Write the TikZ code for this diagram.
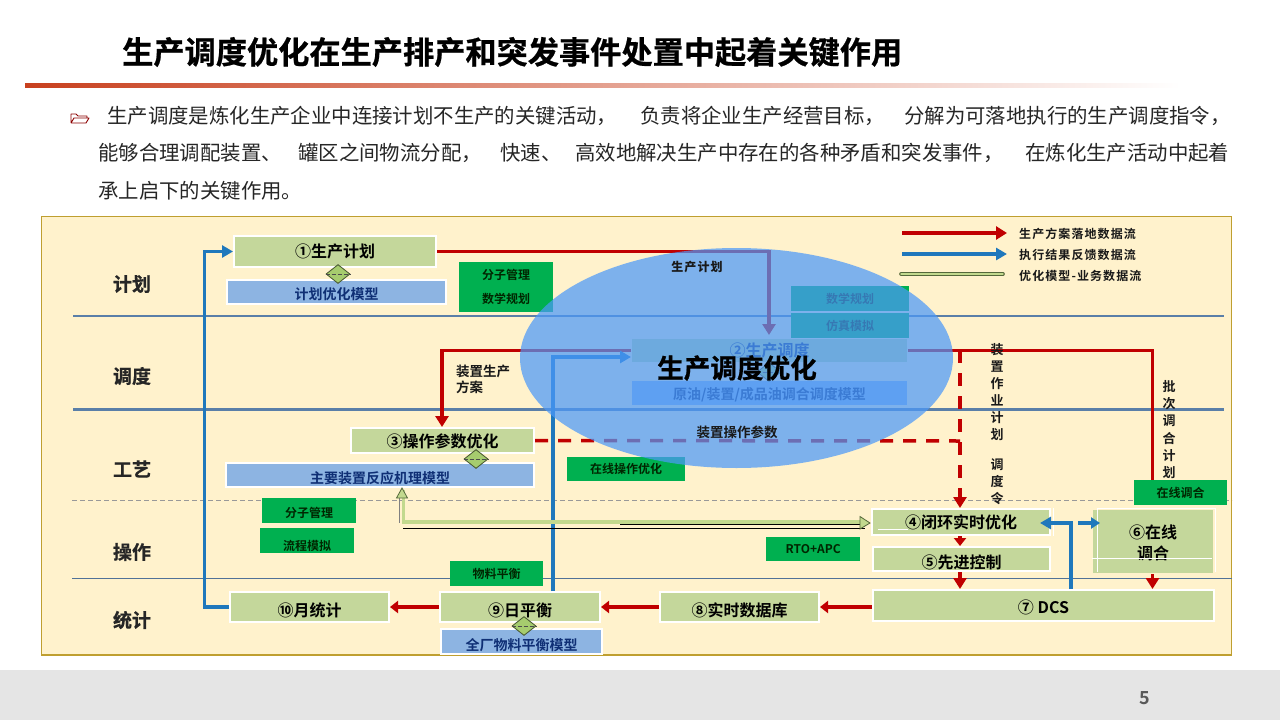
\documentclass[tikz,border=0pt]{standalone}
\usepackage{fontspec}
\setmainfont{Noto Sans CJK SC}[BoldFont={Noto Sans CJK SC Bold}]
\newfontfamily\heavyfont{Noto Sans CJK SC Bold}[FakeBold=0.7]
\newfontfamily\spacedfont{Noto Sans CJK SC Bold}[LetterSpace=9]
\usetikzlibrary{arrows.meta,shapes.geometric,calc}
\definecolor{panelbg}{HTML}{FFF2CC}
\definecolor{panelln}{HTML}{BF9F30}
\definecolor{stepfill}{HTML}{C4D79B}
\definecolor{modelfill}{HTML}{8DB4E2}
\definecolor{navytxt}{HTML}{0F2F75}
\definecolor{greenbox}{HTML}{00B050}
\definecolor{redflow}{HTML}{C00000}
\definecolor{blueflow}{HTML}{1F78BC}
\definecolor{laneln}{HTML}{5A7FA8}
\definecolor{blob}{HTML}{4C99F9}
\definecolor{limeflow}{HTML}{C2D98E}
\definecolor{linkfill}{HTML}{A6CC6E}
\definecolor{ruleleft}{HTML}{C8401E}
\definecolor{rulemid}{HTML}{EDB0AB}
\definecolor{olive}{HTML}{55683A}
\tikzset{
  x=1pt,y=-1pt,
  stepbox/.style={draw=white,line width=2pt,fill=stepfill,font=\bfseries\fontsize{16}{21}\selectfont,inner sep=0pt,anchor=north west,align=center},
  modelbox/.style={draw=white,line width=2pt,fill=modelfill,text=navytxt,font=\bfseries\fontsize{14}{16}\selectfont,inner sep=0pt,anchor=north west},
  methodbox/.style={fill=greenbox,text=black!85!green,font=\bfseries\fontsize{12}{14}\selectfont,inner sep=0pt,anchor=north west,align=center},
  lanelabel/.style={font=\heavyfont\fontsize{19}{21}\selectfont,text=black!85},
  flowlabel/.style={font=\bfseries\fontsize{13.5}{16}\selectfont,text=black!90},
  bodytext/.style={font=\fontsize{20.4}{24}\selectfont,text=black!85,anchor=west,inner sep=0pt},
  legendtext/.style={font=\spacedfont\fontsize{12}{14}\selectfont,anchor=west,inner sep=0pt,text=black!90},
  linkdiamond/.style={diamond,draw=olive!80!black,fill=linkfill,line width=.8pt,minimum width=24pt,minimum height=19pt,inner sep=0pt},
  redarrow/.style={draw=redflow,line width=3.5pt,-{Triangle[length=11pt,width=13pt]}},
  shortred/.style={draw=redflow,line width=3.5pt,-{Triangle[length=8pt,width=12pt]}},
  redplain/.style={draw=redflow,line width=3.5pt},
  reddash/.style={draw=redflow,line width=3.5pt,dash pattern=on 13pt off 10pt},
  bluearrow/.style={draw=blueflow,line width=3.8pt,-{Triangle[length=11pt,width=12pt]}},
  laneline/.style={draw=laneln},
  artifact/.style={draw=white,line width=1pt},
}
\newcommand{\low}[2]{\raisebox{-#1pt}[\height][\depth]{#2}}
\begin{document}
\begin{tikzpicture}
\useasboundingbox (0,0) rectangle (1280,720);
\fill[white] (0,0) rectangle (1280,720);
\fill[black!10] (0,670) rectangle (1280,720);
\node[font=\bfseries\fontsize{18}{20}\selectfont,text=black!65] (pageno) at (1145,698) {5};
% title
\node[font=\heavyfont\fontsize{31.2}{34}\selectfont,anchor=west,inner sep=0pt] (title) at (122,52) {生产调度优化在生产排产和突发事件处置中起着关键作用};
\shade[left color=ruleleft,middle color=rulemid,right color=white] (25,83) rectangle (1180,87.5);
% body
\draw[draw=red!55!black,line width=.9pt,line join=round] (71,123) -- (71,114) -- (76,114) -- (78,116) -- (87,116) -- (87,118) (71,123) -- (86,123) -- (89,118) -- (74,118) -- (71,123);
\node[bodytext] (b1) at (107,116) {生产调度是炼化生产企业中连接计划不生产的关键活动，};
\node[bodytext] (b2) at (640,116) {负责将企业生产经营目标，};
\node[bodytext] (b3) at (904,116) {分解为可落地执行的生产调度指令，};
\node[bodytext] (b4) at (98,153) {能够合理调配装置、};
\node[bodytext] (b5) at (298,153) {罐区之间物流分配，};
\node[bodytext] (b6) at (500,153) {快速、};
\node[bodytext] (b7) at (575,153) {高效地解决生产中存在的各种矛盾和突发事件，};
\node[bodytext] (b8) at (1025,153) {在炼化生产活动中起着};
\node[bodytext] (b9) at (98,191) {承上启下的关键作用。};
% panel
\draw[fill=panelbg,draw=panelln,line width=1.2pt] (41.5,216.5) rectangle (1231.5,655);
\draw[draw=panelln,line width=2pt] (41,655) -- (1232,655);
% lanes
\draw[laneline,line width=1.8pt] (73,316) -- (1224,316);
\draw[laneline,line width=2.6pt] (73,409.5) -- (1224,409.5);
\draw[draw=black!40,line width=.9pt,dash pattern=on 5pt off 3pt] (72,500.5) -- (1232,500.5);
\draw[draw=laneln!90!black,line width=.9pt] (72,578.5) -- (1232,578.5);
\node[lanelabel] (l1) at (132,284) {计划};
\node[lanelabel] (l2) at (132,376) {调度};
\node[lanelabel] (l3) at (132,469) {工艺};
\node[lanelabel] (l4) at (132,552) {操作};
\node[lanelabel] (l5) at (132,620) {统计};
% method boxes
\node[methodbox,minimum width=94pt,minimum height=50pt,font=\bfseries\fontsize{12}{24}\selectfont] (m1) at (459,262) {分子管理\\数学规划};
\node[methodbox,minimum width=118pt,minimum height=25pt] (m2) at (791,286) {数学规划};
\node[methodbox,minimum width=118pt,minimum height=25pt] (m3) at (791,313) {仿真模拟};
\node[methodbox,minimum width=118pt,minimum height=24pt] (m4) at (567,457) {在线操作优化};
\node[methodbox,minimum width=94pt,minimum height=25pt] (m5) at (262,498) {\low{2.5}{分子管理}};
\node[methodbox,minimum width=94pt,minimum height=25pt] (m6) at (260,528) {\low{5}{流程模拟}};
\node[methodbox,minimum width=93pt,minimum height=25pt] (m7) at (450,561) {物料平衡};
\node[methodbox,minimum width=94pt,minimum height=24pt] (m8) at (766,537) {RTO+APC};
\node[methodbox,minimum width=93pt,minimum height=25pt] (m9) at (1134,480) {在线调合};
% step boxes
\node[stepbox,minimum width=202pt,minimum height=31pt] (s1) at (233,235) {①生产计划};
\node[stepbox,draw=none,minimum width=275pt,minimum height=23pt,text=navytxt] (s2) at (631,338) {②生产调度};
\node[stepbox,minimum width=183pt,minimum height=25pt] (s3) at (350,427) {\low{1}{③操作参数优化}};
\node[stepbox,minimum width=178pt,minimum height=26pt] (s4) at (871,508) {④闭环实时优化};
\node[stepbox,minimum width=177pt,minimum height=24pt] (s5) at (872,546) {\low{3}{⑤先进控制}};
\node[stepbox,draw=none,minimum width=120pt,minimum height=63pt] (s6) at (1092,509) {\low{1}{⑥在线}\\\low{1}{调合}};
\node[stepbox,minimum width=341pt,minimum height=31pt] (s7) at (872,589) {\low{1.5}{⑦ DCS}};
\node[stepbox,minimum width=159pt,minimum height=30pt] (s8) at (659,591) {\low{3}{⑧实时数据库}};
\node[stepbox,minimum width=160pt,minimum height=30pt] (s9) at (439,591) {\low{3}{⑨日平衡}};
\node[stepbox,minimum width=159pt,minimum height=30pt] (s10) at (229,591) {\low{3}{⑩月统计}};
\draw[artifact] (1097,508) -- (1215.5,508) -- (1215.5,572);
\draw[artifact] (1097,508) -- (1097,572);
\draw[artifact] (1092,558) -- (1212,558);
\draw[artifact] (878,529.5) -- (908,529.5);
\draw[artifact] (1053,508) -- (1053,536);
% model boxes
\node[modelbox,minimum width=219pt,minimum height=24pt] (d1) at (226,279) {\low{2}{计划优化模型}};
\node[modelbox,draw=none,minimum width=275pt,minimum height=24pt] (d2) at (631,380) {\low{2}{原油/装置/成品油调合调度模型}};
\node[modelbox,minimum width=308pt,minimum height=24pt] (d3) at (225,462) {\low{3}{主要装置反应机理模型}};
\node[modelbox,minimum width=161pt,minimum height=25pt] (d4) at (440,628) {\low{3.5}{全厂物料平衡模型}};
% diamonds
\node[linkdiamond] (k1) at (338,274) {};
\node[linkdiamond] (k2) at (769,372) {};
\node[linkdiamond] (k3) at (476,459) {};
\node[linkdiamond] (k4) at (524,626) {};
\foreach \k in {k1,k2,k3,k4}{\draw[black!70,line width=.6pt,dash pattern=on 4pt off 2pt] (\k.west) -- (\k.east);}
% connectors
\coordinate (c1) at (769,335);
\draw[redarrow] (s1.east) -| (c1);
\coordinate (c2) at (442,427);
\draw[redarrow] (s2.west) -| (c2);
\coordinate (c3) at (1152.5,480);
\draw[redplain] (s2.east) -| (c3);
\coordinate (c3b) at (1152.5,572);
\draw[redarrow] (s6.south -| c3b) -- (s7.north -| c3b);
\coordinate (c4) at (960,350);
\coordinate (c4b) at (960,441);
\draw[reddash] (s3.east) -- (c4b);
\draw[reddash] (c4) -- (960,495);
\draw[redarrow] (960,492) -- (s4.north -| c4);
\draw[shortred] (s4.south -| c4) -- (s5.north -| c4);
\draw[redarrow] (s5.south -| c4) -- (s7.north -| c4);
\draw[shortred] (s7.west |- s8.east) -- (s8.east);
\draw[shortred] (s8.west) -- (s9.east);
\draw[shortred] (s9.west) -- (s10.east);
\coordinate (c7) at (204.5,400);
\draw[bluearrow] (s10.west) -- (c7 |- s10.west) -- (c7 |- s1.west) -- (s1.west);
\coordinate (c8) at (553,357);
\draw[bluearrow] (s9.north -| c8) -- (c8) -- (s2.west |- c8);
\coordinate (c5) at (1071,523);
\coordinate (c5b) at (1040,523);
\draw[bluearrow] (s7.north -| c5) -- (c5) -- (c5b);
\coordinate (c6) at (1078,523);
\coordinate (c6b) at (1100,523);
\draw[bluearrow,-{Triangle[length=9pt,width=11pt]}] (c6) -- (c6b);
% optimisation-model double flow
\draw[draw=limeflow,line width=3.5pt] (403.5,490) -- (403.5,522) -- (866,522);
\draw[draw=black!50,line width=.8pt] (399.5,497) -- (399.5,523);
\draw[draw=black,line width=.9pt] (403,528) -- (865,528);
\draw[draw=black,line width=.7pt] (620,524.5) -- (862,524.5);
\draw[draw=olive,fill=limeflow,line width=.8pt] (402,488) -- (396.5,498) -- (407.5,498) -- cycle;
\draw[draw=olive,fill=limeflow,line width=.8pt] (870,523) -- (860,516.5) -- (860,529) -- cycle;
% blob
\fill[blob,fill opacity=.72] (736.5,358) ellipse [x radius=216.5,y radius=110];
\node[font=\heavyfont\fontsize{26.6}{30}\selectfont] (blobtitle) at (737,368) {生产调度优化};
\node[flowlabel] (f1) at (697,267) {\spacedfont\fontsize{12}{14}\selectfont 生产计划};
\node[flowlabel] (f2) at (737,432) {装置操作参数};
\node[flowlabel,align=left,anchor=north west,inner sep=0pt] (f3) at (456,365) {装置生产\\方案};
\node[flowlabel,align=center,inner sep=0pt,anchor=north,font=\bfseries\fontsize{13}{17}\selectfont] (f4) at (997,343) {装\\置\\作\\业\\计\\划\\[13pt]调\\度\\令};
\node[flowlabel,align=center,inner sep=0pt,anchor=north,font=\bfseries\fontsize{13}{17.1}\selectfont] (f5) at (1169,380.5) {批\\次\\调\\合\\计\\划};
% legend
\coordinate (g1) at (902,233); \coordinate (g1e) at (1007,233);
\coordinate (g2) at (902,254); \coordinate (g2e) at (1007,254);
\coordinate (g3) at (901,274); \coordinate (g3e) at (1003,274);
\draw[redarrow] (g1) -- (g1e);
\draw[bluearrow] (g2) -- (g2e);
\draw[draw=olive,line width=3.6pt,line cap=round] (g3) -- (g3e);
\draw[draw=limeflow,line width=1.4pt,line cap=round] (g3) -- (g3e);
\node[legendtext] (t1) at (1019,234) {生产方案落地数据流};
\node[legendtext] (t2) at (1019,255) {执行结果反馈数据流};
\node[legendtext] (t3) at (1019,276) {优化模型-业务数据流};
\end{tikzpicture}
\end{document}
